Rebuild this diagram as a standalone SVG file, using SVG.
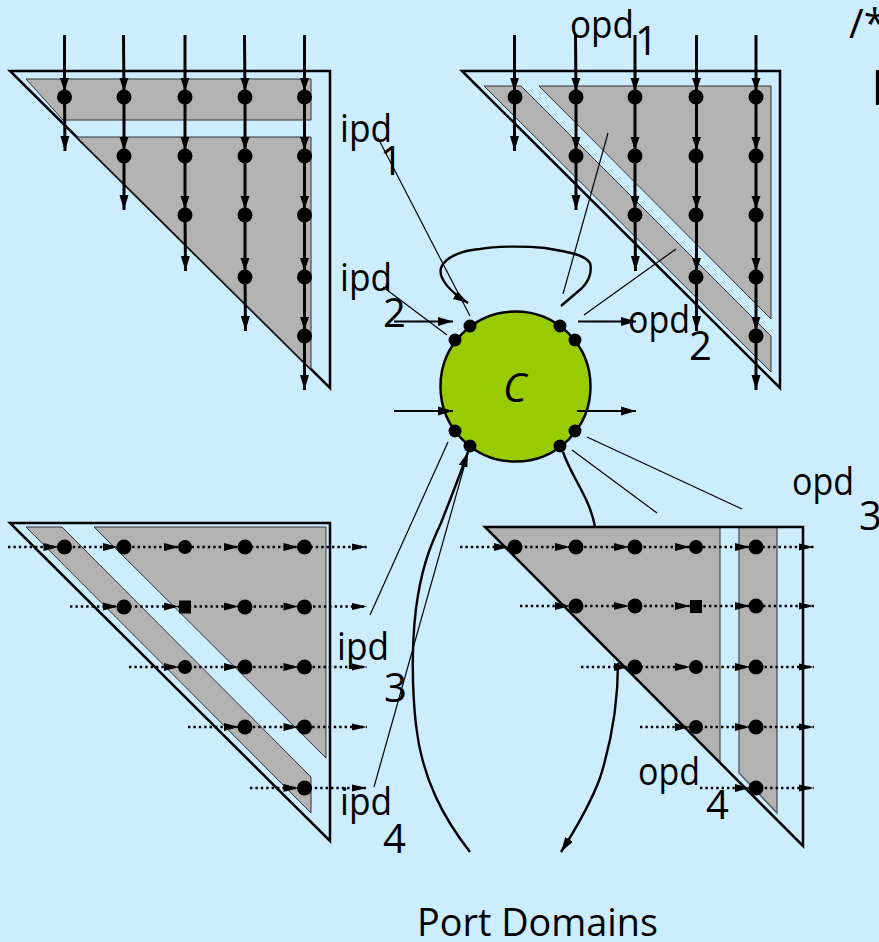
<svg xmlns="http://www.w3.org/2000/svg" width="879" height="942" viewBox="0 0 879 942">
<style>
.bg{fill:#CCECFF}
.outer{fill:none;stroke:#000;stroke-width:2.5;stroke-linejoin:miter}
.g{fill:#B2B2B2;stroke:#333;stroke-width:1}
.v{fill:none;stroke:#000;stroke-width:3;marker-mid:url(#mm);marker-end:url(#me)}
.h{fill:none;stroke:#000;stroke-width:2.400;stroke-dasharray:2.400 3;marker-mid:url(#hm);marker-end:url(#he)}
.d{fill:#000}
.a{fill:none;stroke:#000;stroke-width:2.2;marker-end:url(#me)}
.t{fill:none;stroke:#000;stroke-width:1.2}
.w{fill:none;stroke:#000;stroke-width:2.4}
.wa{fill:none;stroke:#000;stroke-width:2.4;marker-end:url(#me)}
text{font-family:"Open Sans","Liberation Sans",sans-serif;fill:#000}
.l{font-size:38px}
.n{font-size:40px}
</style>
<defs>
<marker id="mm" markerUnits="userSpaceOnUse" markerWidth="22" markerHeight="12" refX="22" refY="6" orient="auto"><path d="M3,1.500 L16,6 L3,10.500 Z" fill="#000"/></marker>
<marker id="me" markerUnits="userSpaceOnUse" markerWidth="16" markerHeight="12" refX="15" refY="6" orient="auto"><path d="M0,1.500 L15,6 L0,10.500 Z" fill="#000"/></marker>
<marker id="hm" markerUnits="userSpaceOnUse" markerWidth="22" markerHeight="12" refX="22" refY="6" orient="auto"><path d="M1,2 L16,6 L1,10 Z" fill="#000"/></marker>
<marker id="he" markerUnits="userSpaceOnUse" markerWidth="16" markerHeight="12" refX="15" refY="6" orient="auto"><path d="M0,2.500 L15,6 L0,9.500 Z" fill="#000"/></marker>
</defs>
<rect class="bg" width="879" height="942"/>

<g id="domain-top-left">
<polygon class="outer" points="10,71 330,71 330,388"/>
<polygon class="g" points="26,79 311,79 311,120 63,120"/>
<polygon class="g" points="77,137 311,137 311,369"/>
<g class="d"><circle cx="64.500" cy="97" r="7.500"/><circle cx="124" cy="97" r="7.500"/><circle cx="185" cy="97" r="7.500"/><circle cx="245" cy="97" r="7.500"/><circle cx="304.500" cy="97" r="7.500"/><circle cx="124" cy="156" r="7.500"/><circle cx="185" cy="156" r="7.500"/><circle cx="245" cy="156" r="7.500"/><circle cx="304.500" cy="156" r="7.500"/><circle cx="185" cy="215" r="7.500"/><circle cx="245" cy="215" r="7.500"/><circle cx="304.500" cy="215" r="7.500"/><circle cx="245" cy="277" r="7.500"/><circle cx="304.500" cy="277" r="7.500"/><circle cx="304.500" cy="336" r="7.500"/></g>
<polyline class="v" points="64.500,35 64.500,97 65,151"/>
<polyline class="v" points="123.500,35 124,97 124,156 124,210"/>
<polyline class="v" points="185,35 185,97 185,156 185,215 185.500,271"/>
<polyline class="v" points="244.500,35 245,97 245,156 245,215 245,277 245.500,331"/>
<polyline class="v" points="304.500,35 304.500,97 304.500,156 304.500,215 304.500,277 304.500,336 304.500,390"/>
</g>

<g id="domain-top-right">
<polygon class="outer" points="462,71 780,71 780,388"/>
<polygon class="g" points="484,86 521,86 771,336 771,372"/>
<polygon class="g" points="539,86 771,86 771,319"/>
<g class="d"><circle cx="515" cy="97" r="7.500"/><circle cx="576" cy="97" r="7.500"/><circle cx="635" cy="97" r="7.500"/><circle cx="696" cy="97" r="7.500"/><circle cx="756" cy="97" r="7.500"/><circle cx="576" cy="156" r="7.500"/><circle cx="635" cy="156" r="7.500"/><circle cx="696" cy="156" r="7.500"/><circle cx="756" cy="156" r="7.500"/><circle cx="635" cy="215" r="7.500"/><circle cx="696" cy="215" r="7.500"/><circle cx="756" cy="215" r="7.500"/><circle cx="696" cy="277" r="7.500"/><circle cx="756" cy="277" r="7.500"/><circle cx="756" cy="336" r="7.500"/></g>
<polyline class="v" points="514.500,35 514.500,97 514.500,151"/>
<polyline class="v" points="575.500,35 576,97 576,156 576,210"/>
<polyline class="v" points="635,35 635,97 635,156 635,215 635.500,271"/>
<polyline class="v" points="696.500,35 696.500,97 696.500,156 696.500,215 696.500,277 696.500,331"/>
<polyline class="v" points="756,35 756,97 756,156 756,215 756,277 756,336 756,390"/>
</g>

<g id="domain-bottom-left">
<polygon class="outer" points="10,523 330,523 330,841"/>
<polygon class="g" points="26,527 62,527 311,777 311,813"/>
<polygon class="g" points="94,527 326,527 326,758"/>
<g class="d"><circle cx="64.500" cy="547" r="7.500"/><circle cx="124" cy="547" r="7.500"/><circle cx="185" cy="547" r="7"/><circle cx="245" cy="547" r="7.500"/><circle cx="304.500" cy="547" r="7.500"/><circle cx="124" cy="607" r="7.500"/><rect x="179" y="600.500" width="12" height="13"/><circle cx="245" cy="607" r="7.500"/><circle cx="304.500" cy="607" r="7.500"/><circle cx="185" cy="667" r="7"/><circle cx="245" cy="667" r="7.500"/><circle cx="304.500" cy="667" r="7.500"/><circle cx="245" cy="727" r="7.500"/><circle cx="304.500" cy="727" r="7.500"/><circle cx="304.500" cy="788" r="7.500"/></g>
<polyline class="h" points="8,547 64.500,547 124,547 185,547 245,547 304.500,547 367,547"/>
<polyline class="h" points="70,606.500 124,606.500 185,606.500 245,606.500 304.500,606.500 367,606.500"/>
<polyline class="h" points="129,667 185,667 245,667 304.500,667 367,667"/>
<polyline class="h" points="188,727 245,727 304.500,727 367,727"/>
<polyline class="h" points="250,788 304.500,788 367,788"/>
</g>

<g id="domain-bottom-right">
<polygon class="g" style="stroke:none" points="485,527 720,527 720,762"/>
<polygon class="g" style="stroke:none" points="739,527 777,527 777,813 739,773"/>
<path d="M720,527 V762 M739,527 V773 L777,813 V527" fill="none" stroke="#555" stroke-width="1.300"/>
<polygon class="outer" points="485,527 803,527 803,846"/>
<g class="d"><circle cx="515" cy="547" r="7.500"/><circle cx="576" cy="547" r="7.500"/><circle cx="635" cy="547" r="7.500"/><circle cx="696" cy="547" r="7"/><circle cx="756" cy="547" r="7.500"/><circle cx="576" cy="606" r="7.500"/><circle cx="635" cy="606" r="7.500"/><rect x="690" y="600" width="12" height="13"/><circle cx="756" cy="606" r="7.500"/><circle cx="635" cy="667" r="7.500"/><circle cx="696" cy="667" r="7"/><circle cx="756" cy="667" r="7.500"/><circle cx="696" cy="727" r="7"/><circle cx="756" cy="727" r="7.500"/><circle cx="756" cy="788" r="7.500"/></g>
<polyline class="h" points="460,547 515,547 576,547 635,547 696,547 756,547 814,547"/>
<polyline class="h" points="520,606 576,606 635,606 696,606 756,606 814,606"/>
<polyline class="h" points="581,667 635,667 696,667 756,667 814,667"/>
<polyline class="h" points="640,727 696,727 756,727 814,727"/>
<polyline class="h" points="700,788 756,788 814,788"/>
</g>

<g id="component-c">
<circle cx="515.500" cy="386.500" r="75" fill="#99CC00" stroke="#000" stroke-width="2.500"/>
<g class="d"><circle cx="470" cy="326" r="6.500"/><circle cx="455" cy="340" r="6.500"/><circle cx="560" cy="326" r="6.500"/><circle cx="575" cy="340" r="6.500"/><circle cx="455" cy="431" r="6.500"/><circle cx="470" cy="446" r="6.500"/><circle cx="560" cy="446" r="6.500"/><circle cx="575" cy="431" r="6.500"/></g>
<text x="503" y="402" font-size="40" font-style="italic">C</text>
</g>

<g id="connectors">
<line class="a" x1="394" y1="321.500" x2="453" y2="321.500"/>
<line class="a" x1="578" y1="321.500" x2="636" y2="321.500"/>
<line class="a" x1="394" y1="411" x2="453" y2="411"/>
<line class="a" x1="577" y1="411" x2="636" y2="411"/>
<line class="t" x1="378" y1="138" x2="470" y2="316"/>
<line class="t" x1="383" y1="287" x2="447" y2="335"/>
<line class="t" x1="608" y1="133" x2="563" y2="294"/>
<line class="t" x1="676" y1="249" x2="584" y2="315"/>
<line class="t" x1="587" y1="437" x2="742" y2="509"/>
<line class="t" x1="572" y1="450" x2="657" y2="513"/>
<line class="t" x1="448" y1="442" x2="370" y2="615"/>
<line class="t" x1="468" y1="453" x2="374" y2="787"/>
<path class="wa" d="M561,306 L582,288 C590,280 592,270 590,263 C585,255 570,252 545,248 C525,246 495,246 480,249 C465,250 445,256 441,268 C438,278 450,292 468,303"/>
<path class="wa" d="M470,852 C445,820 422,780 416,725 C411,680 412,630 418,595 C424,560 433,540 441,523 C450,500 460,475 468,452"/>
<path class="w" d="M563,452 C572,478 590,498 595,527"/>
<path class="wa" d="M618,663 C618,700 612,740 600,778 C590,805 575,830 561,852"/>
</g>

<g id="labels">
<text class="l" x="570" y="38" textLength="64" lengthAdjust="spacingAndGlyphs">opd</text><text class="n" x="635" y="55">1</text>
<text class="l" x="340" y="142" textLength="52" lengthAdjust="spacingAndGlyphs">ipd</text><text class="n" x="380" y="175">1</text>
<text class="l" x="340" y="291" textLength="52" lengthAdjust="spacingAndGlyphs">ipd</text><text class="n" x="383" y="327">2</text>
<text class="l" x="628" y="333" textLength="62" lengthAdjust="spacingAndGlyphs">opd</text><text class="n" x="689" y="360">2</text>
<text class="l" x="792" y="495" textLength="62" lengthAdjust="spacingAndGlyphs">opd</text><text class="n" x="859" y="530">3</text>
<text class="l" x="638" y="785" textLength="62" lengthAdjust="spacingAndGlyphs">opd</text><text class="n" x="706" y="819">4</text>
<text class="l" x="337" y="660" textLength="52" lengthAdjust="spacingAndGlyphs">ipd</text><text class="n" x="384" y="702">3</text>
<text class="l" x="340" y="815" textLength="52" lengthAdjust="spacingAndGlyphs">ipd</text><text class="n" x="383" y="853">4</text>
<text class="l" x="417" y="936" textLength="241" lengthAdjust="spacingAndGlyphs">Port Domains</text>
<text x="849" y="38" font-size="40">/*</text>
<text x="871" y="105" font-size="50">D</text>
</g>
</svg>
